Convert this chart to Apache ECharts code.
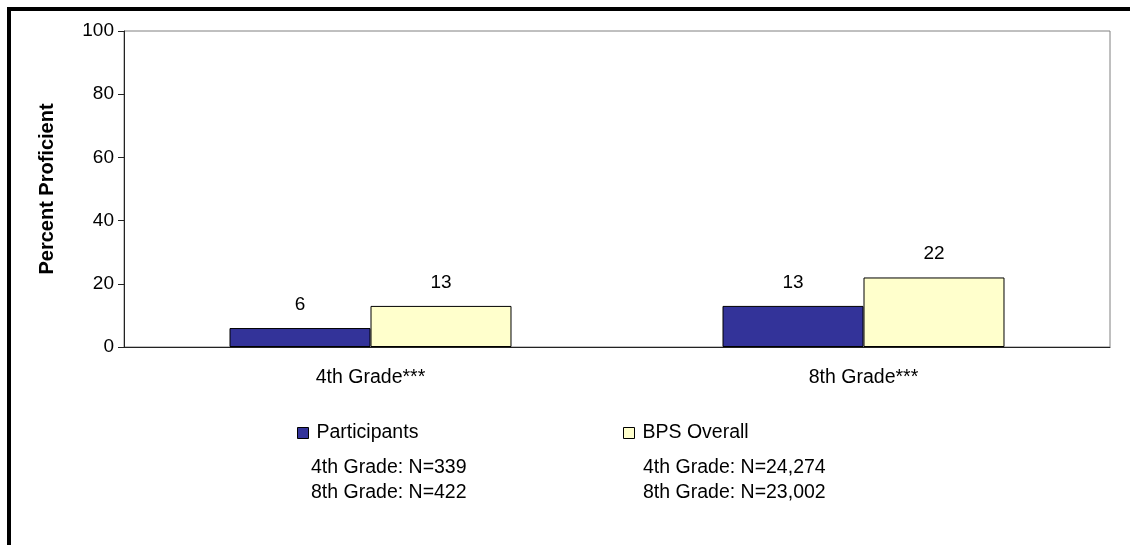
<!DOCTYPE html>
<html>
<head>
<meta charset="utf-8">
<script src="https://cdn.jsdelivr.net/npm/echarts@6/dist/echarts.min.js"></script>
<style>
  html, body { margin: 0; padding: 0; background: #fff; }
  #chart { width: 1130px; height: 545px; }
</style>
</head>
<body>
<div id="chart"></div>
<script>
// 数据
var categories = ['4th Grade***', '8th Grade***'];
var participants = [6, 13];
var bpsOverall = [13, 22];
var participantsNotes = ['4th Grade: N=339', '8th Grade: N=422'];
var bpsNotes = ['4th Grade: N=24,274', '8th Grade: N=23,002'];

var font = 'Liberation Sans, Arial, sans-serif';
var textSize = 19.5;
var numSize = 19;
var myChart = echarts.init(document.getElementById('chart'));

// 图例下方的样本数说明
var notes = [];
participantsNotes.forEach(function(t, i) {
  notes.push({ type: 'text', left: 311, top: 458 + i * 25,
    style: { text: t, font: textSize + 'px ' + font, fill: '#000' } });
});
bpsNotes.forEach(function(t, i) {
  notes.push({ type: 'text', left: 643, top: 458 + i * 25,
    style: { text: t, font: textSize + 'px ' + font, fill: '#000' } });
});

var legendBase = {
  top: 423, padding: 0,
  icon: 'rect',
  itemWidth: 11, itemHeight: 11, itemGap: 0,
  itemStyle: { borderColor: '#000', borderWidth: 1 },
  textStyle: { fontFamily: font, fontSize: textSize, color: '#000', padding: [0, 0, 0, 3] }
};

var option = {
  animation: false,
  backgroundColor: '#fff',
  grid: {
    left: 124, top: 31, right: 20, bottom: 198,
    show: true, borderColor: '#808080', borderWidth: 1
  },
  legend: [
    Object.assign({ data: ['Participants'], left: 297 }, legendBase),
    Object.assign({ data: ['BPS Overall'], left: 623 }, legendBase)
  ],
  xAxis: {
    type: 'category',
    data: categories,
    axisLine: { lineStyle: { color: '#222', width: 1 } },
    axisTick: { show: false },
    axisLabel: { color: '#000', fontFamily: font, fontSize: textSize, margin: 21 }
  },
  yAxis: {
    type: 'value',
    min: 0, max: 100, interval: 20,
    name: 'Percent Proficient',
    nameLocation: 'middle',
    nameGap: 67,
    nameTextStyle: { fontFamily: font, fontSize: 20, fontWeight: 'bold', color: '#000' },
    axisLine: { show: true, lineStyle: { color: '#222', width: 1 } },
    axisTick: { show: true, length: 6, lineStyle: { color: '#222' } },
    axisLabel: { color: '#000', fontFamily: font, fontSize: numSize, margin: 10 },
    splitLine: { show: false }
  },
  series: [{
    name: 'Participants',
    type: 'bar',
    data: participants,
    barWidth: '28.6%',
    barGap: '0%',
    itemStyle: { color: '#333399', borderColor: '#000', borderWidth: 1 },
    label: { show: true, position: 'top', distance: 14, color: '#000', fontFamily: font, fontSize: numSize }
  }, {
    name: 'BPS Overall',
    type: 'bar',
    data: bpsOverall,
    barWidth: '28.6%',
    itemStyle: { color: '#FFFFCC', borderColor: '#000', borderWidth: 1 },
    label: { show: true, position: 'top', distance: 14, color: '#000', fontFamily: font, fontSize: numSize }
  }],
  graphic: [
    { type: 'rect', shape: { x: 7, y: 7, width: 1123, height: 4 }, style: { fill: '#000' } },
    { type: 'rect', shape: { x: 7, y: 7, width: 4, height: 538 }, style: { fill: '#000' } }
  ].concat(notes)
};
myChart.setOption(option);
</script>
</body>
</html>
